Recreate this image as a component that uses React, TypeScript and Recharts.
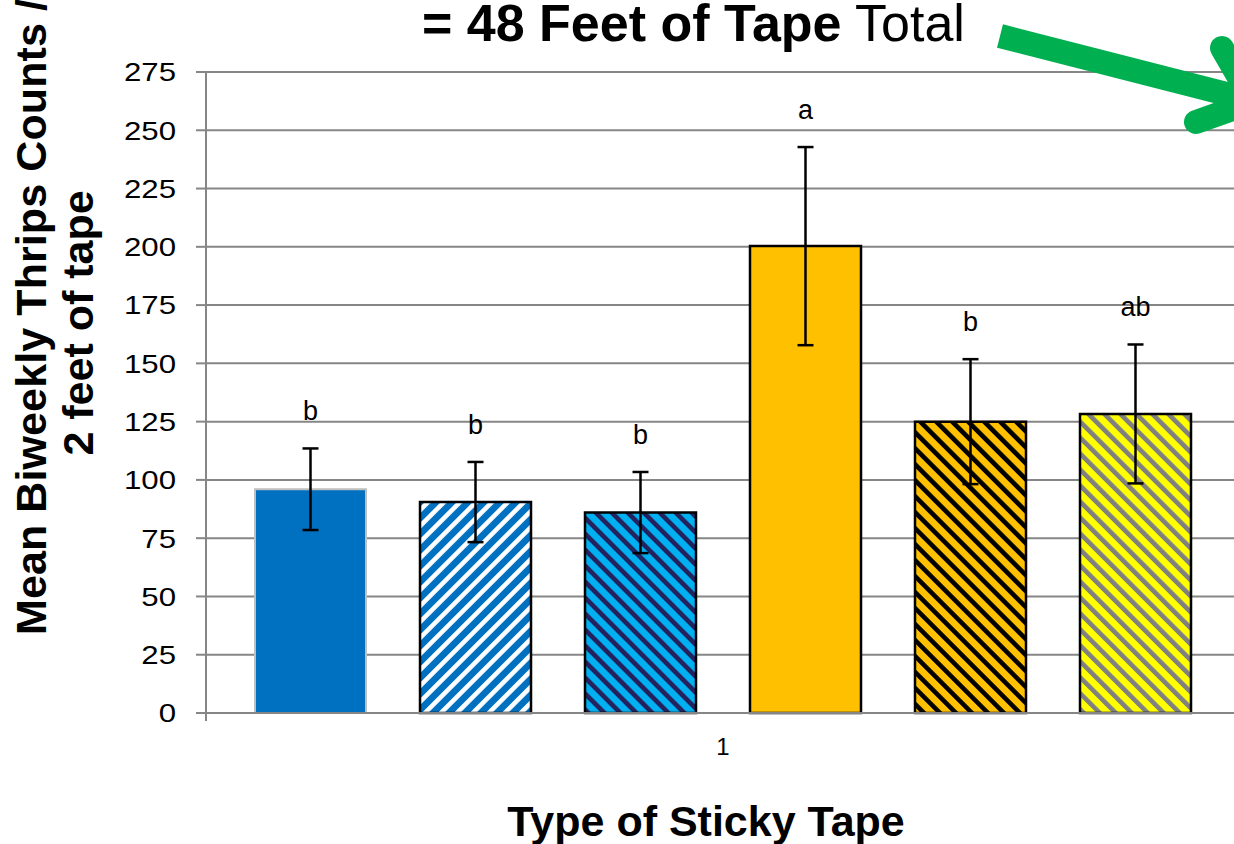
import React from 'react';
import { BarChart, Bar, XAxis, YAxis, CartesianGrid, ErrorBar, LabelList } from 'recharts';

const categories = ['1'];
const tapeKeys = ['t1', 't2', 't3', 't4', 't5', 't6'];
const means = [96, 90.5, 86, 200.3, 125, 128.3];
const errors = [17.5, 17.2, 17.4, 42.5, 26.8, 29.8];
const letters = ['b', 'b', 'b', 'a', 'b', 'ab'];
const yTicks = [0, 25, 50, 75, 100, 125, 150, 175, 200, 225, 250, 275];

const FONT = '"Liberation Sans", Arial, sans-serif';
const GRID = '#868686';

// one row, one category, six series
const data = categories.map((name) => {
  const row: any = { name };
  tapeKeys.forEach((k, i) => {
    row[k] = means[i];
    row[k + 'Err'] = errors[i];
  });
  return row;
});

const barStyles = [
  { fill: '#0070C0', stroke: '#BFBFBF', strokeWidth: 2 },
  { fill: 'url(#upBlueWhite)', stroke: '#000', strokeWidth: 2.5 },
  { fill: 'url(#downCyanNavy)', stroke: '#000', strokeWidth: 2.5 },
  { fill: '#FFC000', stroke: '#000', strokeWidth: 2.5 },
  { fill: 'url(#downGoldBlack)', stroke: '#000', strokeWidth: 2.5 },
  { fill: 'url(#downYellowGray)', stroke: '#000', strokeWidth: 2.5 },
];

function stripe(id: string, bg: string, fg: string, angle: number) {
  return (
    <pattern id={id} width={11.3} height={11.3} patternUnits="userSpaceOnUse" patternTransform={`rotate(${angle})`}>
      <rect width={11.3} height={11.3} fill={bg} />
      <rect width={4.6} height={11.3} fill={fg} />
    </pattern>
  );
}

function letterContent(letter: string, err: number) {
  return (props: any) => {
    const x = Number(props.x);
    const y = Number(props.y);
    const w = Number(props.width);
    const h = Number(props.height);
    const v = Number(props.value);
    const ppu = v ? h / v : 0;
    const capTop = y - err * ppu;
    return (
      <text x={x + w / 2} y={capTop - 28} textAnchor="middle" fontSize={27} fill="#000" fontFamily={FONT}>
        {letter}
      </text>
    );
  };
}

const YTick = (props: any) => {
  const { x, y, payload } = props;
  return (
    <text
      transform={`translate(${x},${y}) scale(1.2,1)`}
      textAnchor="end"
      dy="0.36em"
      fontSize={26}
      fill="#000"
      fontFamily={FONT}
    >
      {payload.value}
    </text>
  );
};

export default function App() {
  return (
    <div
      style={{
        position: 'fixed',
        left: 0,
        top: 0,
        width: 1234,
        height: 844,
        overflow: 'hidden',
        background: '#fff',
        fontFamily: FONT,
      }}
    >
      <svg width={0} height={0} style={{ position: 'absolute' }}>
        <defs>
          {stripe('upBlueWhite', '#0070C0', '#FFFFFF', 45)}
          {stripe('downCyanNavy', '#00B0F0', '#23215E', -45)}
          {stripe('downGoldBlack', '#FFC000', '#000000', -45)}
          {stripe('downYellowGray', '#FFFF00', '#808080', -45)}
        </defs>
      </svg>

      <div style={{ position: 'absolute', left: 0, top: 0 }}>
        <BarChart
          width={1240}
          height={844}
          data={data}
          margin={{ top: 72, right: 0, left: 106, bottom: 71 }}
          barCategoryGap={49}
          barGap={54}
        >
          <CartesianGrid vertical={false} stroke={GRID} strokeWidth={2} />
          <XAxis
            dataKey="name"
            height={60}
            tickLine={false}
            tickSize={0}
            tickMargin={25}
            axisLine={{ stroke: GRID, strokeWidth: 2 }}
            tick={{ fill: '#000', fontSize: 24, fontFamily: FONT }}
          />
          <YAxis
            width={100}
            domain={[0, 275]}
            ticks={yTicks}
            interval={0}
            tickSize={10}
            tickMargin={20}
            tickLine={{ stroke: GRID, strokeWidth: 2 }}
            axisLine={{ stroke: GRID, strokeWidth: 2 }}
            tick={<YTick />}
          />
          {tapeKeys.map((k, i) => (
            <Bar
              key={k}
              dataKey={k}
              fill={barStyles[i].fill}
              stroke={barStyles[i].stroke}
              strokeWidth={barStyles[i].strokeWidth}
              isAnimationActive={false}
            >
              <ErrorBar
                dataKey={k + 'Err'}
                direction="y"
                width={8}
                stroke="#000"
                strokeWidth={2.5}
                isAnimationActive={false}
              />
              <LabelList dataKey={k} content={letterContent(letters[i], errors[i])} />
            </Bar>
          ))}
        </BarChart>
      </div>

      <svg width={1234} height={844} style={{ position: 'absolute', left: 0, top: 0, pointerEvents: 'none' }}>
        <line x1={206} y1={713} x2={206} y2={721} stroke={GRID} strokeWidth={2} />
        <text x={422} y={41} fontSize={52} fill="#000" fontFamily={FONT}>
          <tspan fontWeight="bold">= 48 Feet of Tape</tspan>
          <tspan> Total</tspan>
        </text>
        <g stroke="#00B050" strokeWidth={24} strokeLinecap="round" fill="none">
          <line x1={1000} y1={36} x2={1250} y2={100} strokeLinecap="butt" />
          <line x1={1222} y1={48} x2={1252} y2={100} />
          <line x1={1196} y1={122} x2={1252} y2={102} />
        </g>
        <text
          transform="translate(46,635) rotate(-90)"
          textAnchor="start"
          fontSize={43}
          fontWeight="bold"
          letterSpacing={0.1}
          fill="#000"
          fontFamily={FONT}
        >
          Mean Biweekly Thrips Counts /
        </text>
        <text
          transform="translate(93,323) rotate(-90)"
          textAnchor="middle"
          fontSize={43}
          fontWeight="bold"
          fill="#000"
          fontFamily={FONT}
        >
          2 feet of tape
        </text>
        <text x={706} y={836} textAnchor="middle" fontSize={43} fontWeight="bold" fill="#000" fontFamily={FONT}>
          Type of Sticky Tape
        </text>
      </svg>
    </div>
  );
}
